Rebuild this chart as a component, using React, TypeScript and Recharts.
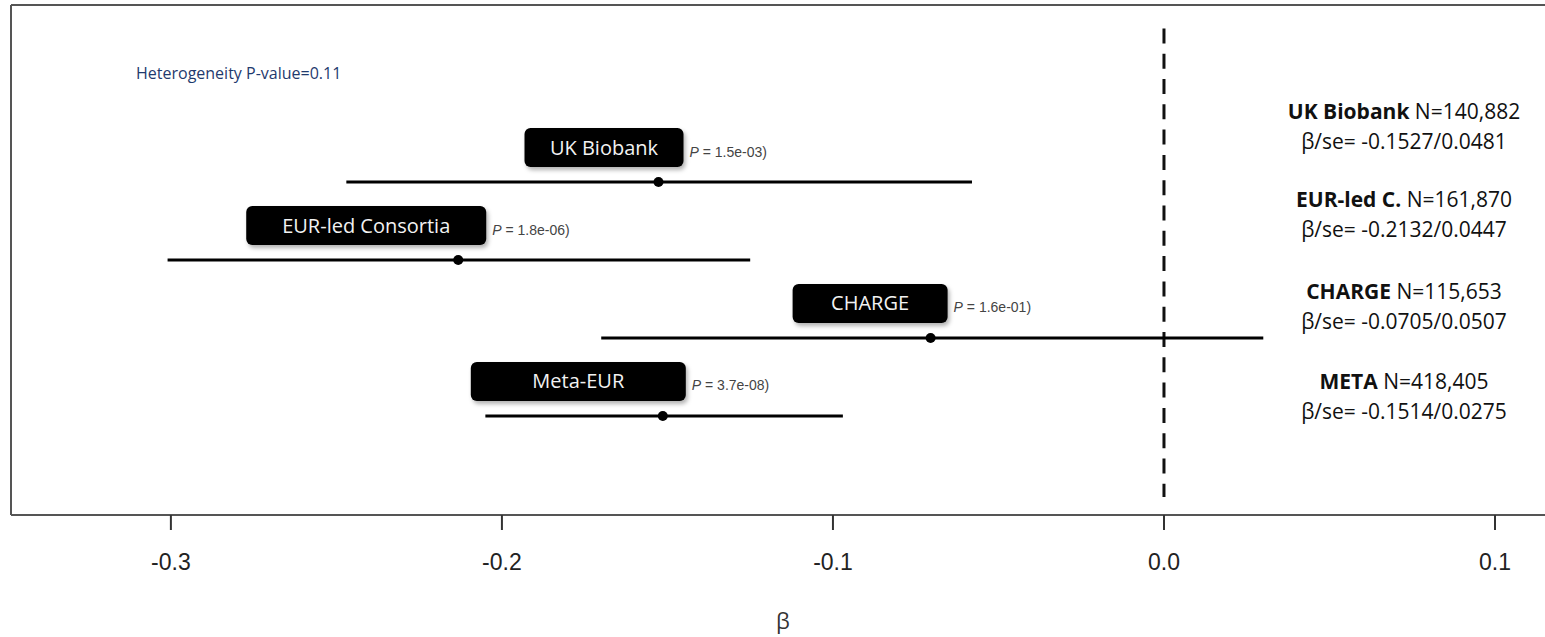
import React from 'react';
import {
  ComposedChart,
  Scatter,
  XAxis,
  YAxis,
  ReferenceLine,
} from 'recharts';

// ---- data ----
const studies = ['UK Biobank', 'EUR-led Consortia', 'CHARGE', 'Meta-EUR'];
const betas = [-0.1527, -0.2132, -0.0705, -0.1514];
const ciLow = [-0.247, -0.301, -0.17, -0.205];
const ciHigh = [-0.058, -0.125, 0.03, -0.097];
const pValues = ['1.5e-03', '1.8e-06', '1.6e-01', '3.7e-08'];
const rowPos = [4, 3, 2, 1];

const noteNames = ['UK Biobank', 'EUR-led C.', 'CHARGE', 'META'];
const noteN = ['140,882', '161,870', '115,653', '418,405'];
const noteBetaSe = ['-0.1527/0.0481', '-0.2132/0.0447', '-0.0705/0.0507', '-0.1514/0.0275'];

const xTicks = [-0.3, -0.2, -0.1, 0, 0.1];
const heterogeneity = 'Heterogeneity P-value=0.11';

// ---- layout ----
const W = 1545;
const H = 637;
const BOX_W = [159, 240, 155, 215];
const BOX_DX = [25, 28, 17, 23]; // right edge of label box relative to the dot
const NOTE_Y = [119, 207, 299, 389];

const chartData = studies.map((name, i) => ({
  name,
  beta: betas[i],
  row: rowPos[i],
  p: pValues[i],
  idx: i,
}));

const UI_FONT = '"Open Sans", "DejaVu Sans", sans-serif';

const PointShape = (props: any) => {
  const { cx, cy, payload } = props;
  const i = payload.idx;
  const right = cx + BOX_DX[i];
  const left = right - BOX_W[i];
  const top = cy - 54;
  const h = 39;
  return (
    <g>
      <rect
        x={left}
        y={top}
        width={BOX_W[i]}
        height={h}
        rx={6}
        ry={6}
        fill="#050505"
        filter="url(#boxShadow)"
      />
      <text
        x={left + BOX_W[i] / 2}
        y={top + h / 2 + 7}
        textAnchor="middle"
        fill="#f2f2f2"
        fontSize={20}
        fontFamily={UI_FONT}
      >
        {payload.name}
      </text>
      <text
        x={right + 6}
        y={top + h / 2 + 9}
        fill="#444"
        fontSize={14}
        fontFamily='"Liberation Sans", Arial, sans-serif'
      >
        <tspan fontStyle="italic">P</tspan>
        <tspan>{` = ${payload.p})`}</tspan>
      </text>
      <circle cx={cx} cy={cy} r={5} fill="#000" />
    </g>
  );
};

export default function App() {
  return (
    <div style={{ position: 'absolute', left: 0, top: 0, width: W, height: H, background: '#fff' }}>
      <ComposedChart
        width={W}
        height={H}
        data={chartData}
        margin={{ top: 5, right: 0, bottom: 0, left: 0 }}
      >
        <defs>
          <filter id="boxShadow" x="-10%" y="-20%" width="130%" height="160%">
            <feDropShadow dx="2" dy="3" stdDeviation="2" floodColor="#000" floodOpacity="0.3" />
          </filter>
        </defs>
        <XAxis
          type="number"
          dataKey="beta"
          domain={[-0.3483, 0.1151]}
          allowDataOverflow
          ticks={xTicks}
          tickFormatter={(v: number) => v.toFixed(1)}
          height={122}
          tickSize={15}
          tickMargin={24}
          axisLine={{ stroke: '#555', strokeWidth: 2 }}
          tickLine={{ stroke: '#333', strokeWidth: 2 }}
          tick={{ fill: '#222', fontSize: 23, fontFamily: '"Liberation Sans", Arial, sans-serif' }}
        />
        <YAxis
          type="number"
          dataKey="row"
          domain={[-0.27, 6.27]}
          allowDataOverflow
          width={11}
          tick={false}
          tickLine={false}
          axisLine={{ stroke: '#555', strokeWidth: 2 }}
        />
        <ReferenceLine y={6.27} stroke="#555" strokeWidth={2} ifOverflow="visible" />
        <ReferenceLine
          segment={[
            { x: 0, y: 5.97 },
            { x: 0, y: -0.04 },
          ]}
          stroke="#111"
          strokeWidth={3}
          strokeDasharray="15 10.3"
        />
        {chartData.map((d, i) => (
          <ReferenceLine
            key={d.name}
            segment={[
              { x: ciLow[i], y: d.row },
              { x: ciHigh[i], y: d.row },
            ]}
            stroke="#000"
            strokeWidth={3}
          />
        ))}
        <Scatter dataKey="row" shape={PointShape} isAnimationActive={false} />
      </ComposedChart>
      <svg
        width={W}
        height={H}
        style={{ position: 'absolute', left: 0, top: 0, pointerEvents: 'none' }}
      >
        <text x={136} y={79} fill="#1f3a6e" fontSize={16} fontFamily={UI_FONT}>
          {heterogeneity}
        </text>
        {noteNames.map((n, i) => (
          <g key={n} fontFamily={UI_FONT} fontSize={21} fill="#111">
            <text x={1404} y={NOTE_Y[i]} textAnchor="middle">
              <tspan fontWeight="bold">{n}</tspan>
              <tspan>{` N=${noteN[i]}`}</tspan>
            </text>
            <text x={1404} y={NOTE_Y[i] + 30} textAnchor="middle">
              {`β/se= ${noteBetaSe[i]}`}
            </text>
          </g>
        ))}
        <text x={783} y={629} textAnchor="middle" fill="#333" fontSize={22} fontFamily={UI_FONT}>
          β
        </text>
      </svg>
    </div>
  );
}
